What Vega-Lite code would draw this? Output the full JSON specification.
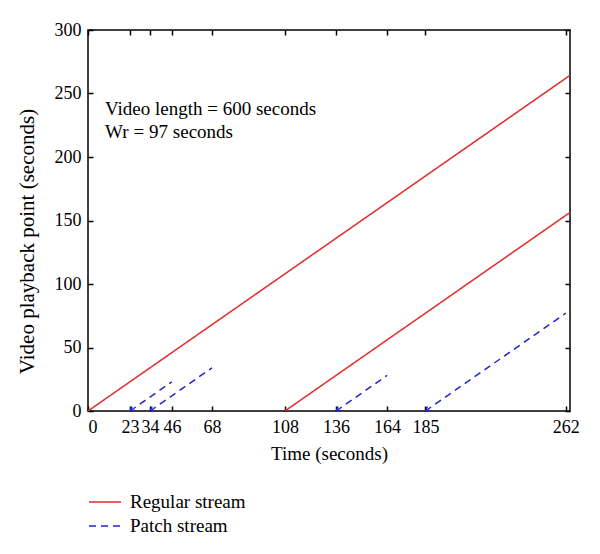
{
  "$schema": "https://vega.github.io/schema/vega-lite/v6.json",
  "width": 482,
  "height": 381,
  "autosize": "none",
  "padding": {"left": 88, "top": 30, "right": 30, "bottom": 143},
  "background": "white",
  "config": {
    "font": "Liberation Serif, DejaVu Serif, serif",
    "text": {"font": "Liberation Serif, DejaVu Serif, serif"},
    "view": {"stroke": "black", "strokeWidth": 1.5},
    "axis": {
      "domain": false,
      "grid": false,
      "tickSize": -5,
      "tickColor": "black",
      "tickWidth": 1.5,
      "labelFont": "Liberation Serif, DejaVu Serif, serif",
      "labelColor": "black",
      "labelFontSize": 18,
      "labelPadding": 12,
      "titleFont": "Liberation Serif, DejaVu Serif, serif",
      "titleColor": "black",
      "titleFontSize": 19,
      "titleFontWeight": "normal"
    },
    "legend": {"labelFont": "Liberation Serif, DejaVu Serif, serif"}
  },
  "datasets": {
    "streams": [
      {"seg": "R1", "stream": "Regular stream", "t": 0, "p": 0},
      {"seg": "R1", "stream": "Regular stream", "t": 264.3, "p": 264.3},
      {"seg": "R2", "stream": "Regular stream", "t": 108, "p": 0},
      {"seg": "R2", "stream": "Regular stream", "t": 264.3, "p": 156.3},
      {"seg": "P1", "stream": "Patch stream", "t": 23, "p": 0},
      {"seg": "P1", "stream": "Patch stream", "t": 46, "p": 23},
      {"seg": "P2", "stream": "Patch stream", "t": 34, "p": 0},
      {"seg": "P2", "stream": "Patch stream", "t": 68, "p": 34},
      {"seg": "P3", "stream": "Patch stream", "t": 136, "p": 0},
      {"seg": "P3", "stream": "Patch stream", "t": 164, "p": 28},
      {"seg": "P4", "stream": "Patch stream", "t": 185, "p": 0},
      {"seg": "P4", "stream": "Patch stream", "t": 262, "p": 77}
    ],
    "notes": [
      {"t": 9.3, "p": 233, "label": "Video length = 600 seconds", "style": "normal"},
      {"t": 9.3, "p": 215, "label": "Wr", "style": "italic"},
      {"t": 25, "p": 215, "label": "= 97 seconds", "style": "normal"}
    ]
  },
  "resolve": {"axis": {"x": "independent", "y": "independent"}},
  "layer": [
    {
      "data": {"name": "streams"},
      "mark": {"type": "line", "strokeWidth": 1.5, "clip": true},
      "encoding": {
        "x": {
          "field": "t", "type": "quantitative",
          "scale": {"domain": [0, 264.3], "nice": false, "zero": false},
          "axis": {"orient": "bottom", "values": [0, 23, 34, 46, 68, 108, 136, 164, 185, 262], "title": "Time (seconds)", "titlePadding": 8}
        },
        "y": {
          "field": "p", "type": "quantitative",
          "scale": {"domain": [0, 300], "nice": false},
          "axis": {"orient": "left", "values": [0, 50, 100, 150, 200, 250, 300], "title": "Video playback point (seconds)", "titleFontSize": 21, "titleX": -61, "titleY": 211, "titleBaseline": "middle", "titleAngle": -90}
        },
        "color": {
          "field": "stream", "type": "nominal",
          "scale": {"domain": ["Regular stream", "Patch stream"], "range": ["#e02a2a", "#2424cc"]},
          "legend": {
            "orient": "none", "legendX": 6, "legendY": 461, "title": null,
            "symbolType": "M-1.6,0L1.6,0", "symbolSize": 400, "symbolStrokeWidth": 1.5, "symbolFillColor": "transparent",
            "labelFont": "Liberation Serif, DejaVu Serif, serif",
            "labelFontSize": 19, "labelColor": "black", "labelOffset": 14, "rowPadding": 3
          }
        },
        "strokeDash": {
          "field": "stream", "type": "nominal",
          "scale": {"domain": ["Regular stream", "Patch stream"], "range": [[1, 0], [7, 5]]},
          "legend": null
        },
        "detail": {"field": "seg"}
      }
    },
    {
      "data": {"name": "streams"},
      "transform": [{"filter": "datum.stream == 'Patch stream' && datum.p == 0"}],
      "mark": {"type": "point", "shape": "M0,0L1,-0.09M0,0L0.42,-0.91", "filled": false, "size": 100, "strokeWidth": 1.5, "color": "#2424cc", "opacity": 1},
      "encoding": {
        "x": {"field": "t", "type": "quantitative", "axis": null},
        "y": {"field": "p", "type": "quantitative", "axis": null}
      }
    },
    {
      "data": {"name": "notes"},
      "mark": {"type": "text", "align": "left", "baseline": "alphabetic", "font": "Liberation Serif, DejaVu Serif, serif", "fontSize": 19, "color": "black"},
      "encoding": {
        "x": {"field": "t", "type": "quantitative", "axis": null},
        "y": {"field": "p", "type": "quantitative", "axis": null},
        "text": {"field": "label"},
        "fontStyle": {"field": "style", "type": "nominal", "scale": null}
      }
    },
    {
      "data": {"name": "streams"},
      "mark": {"type": "line", "opacity": 0},
      "encoding": {
        "x": {
          "field": "t", "type": "quantitative",
          "axis": {"orient": "top", "values": [0, 23, 34, 46, 68, 108, 136, 164, 185, 262], "labels": false, "title": null}
        },
        "y": {
          "field": "p", "type": "quantitative",
          "axis": {"orient": "right", "values": [0, 50, 100, 150, 200, 250, 300], "labels": false, "title": null}
        },
        "detail": {"field": "seg"}
      }
    }
  ]
}
